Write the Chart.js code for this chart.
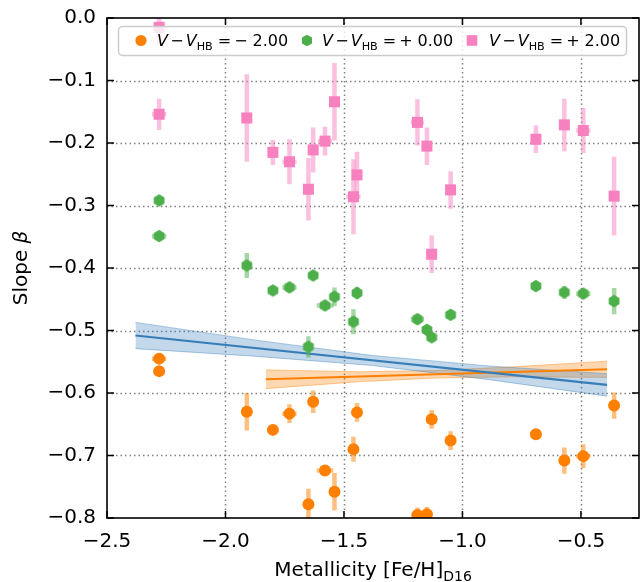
<!DOCTYPE html>
<html>
<head>
<meta charset="utf-8">
<script src="https://cdn.jsdelivr.net/npm/chart.js@4"></script>
<style>
  html, body { margin: 0; padding: 0; background: #fff; }
  #wrap { width: 640px; height: 582px; }
</style>
</head>
<body>
<div id="wrap"><canvas id="chart" width="640" height="582"></canvas></div>
<script>
// metallicity of each cluster, [Fe/H]_D16
const metallicity = [-2.28, -2.28, -1.91, -1.80, -1.73, -1.65, -1.63, -1.58, -1.54, -1.46,
                     -1.445, -1.19, -1.15, -1.13, -1.05, -0.69, -0.57, -0.49, -0.36];

// V - V_HB = -2.00 (orange circles)
const slopeM2 = [-0.545, -0.565, -0.630, -0.659, -0.633, -0.778, -0.614, -0.724, -0.758, -0.690,
                 -0.631, -0.795, -0.794, -0.642, -0.676, -0.666, -0.708, -0.701, -0.620];
const yErrM2  = [0.008, 0.005, 0.030, 0.006, 0.015, 0.025, 0.018, 0.008, 0.030, 0.020,
                 0.015, 0.012, 0.012, 0.015, 0.015, 0.004, 0.021, 0.019, 0.021];
const xErrM2  = [0.03, 0.02, 0.02, 0.02, 0.03, 0.02, 0.02, 0.035, 0.02, 0.02,
                 0.02, 0.025, 0.02, 0.02, 0.02, 0.02, 0.02, 0.03, 0.02];

// V - V_HB = +0.00 (green hexagons)
const slope00 = [-0.292, -0.349, -0.396, -0.436, -0.431, -0.526, -0.412, -0.460, -0.446, -0.486,
                 -0.440, -0.482, -0.499, -0.511, -0.475, -0.429, -0.439, -0.441, -0.453];
const yErr00  = [0.007, 0.006, 0.020, 0.006, 0.008, 0.017, 0.007, 0.006, 0.015, 0.020,
                 0.010, 0.008, 0.006, 0.006, 0.006, 0.005, 0.010, 0.008, 0.021];
const xErr00  = [0.02, 0.03, 0.02, 0.02, 0.03, 0.02, 0.02, 0.035, 0.02, 0.02,
                 0.02, 0.028, 0.02, 0.02, 0.02, 0.02, 0.02, 0.03, 0.02];

// V - V_HB = +2.00 (pink squares)
const slopeP2 = [-0.015, -0.154, -0.160, -0.215, -0.230, -0.274, -0.211, -0.197, -0.134, -0.286,
                 -0.251, -0.167, -0.205, -0.378, -0.275, -0.194, -0.171, -0.180, -0.285];
const yErrP2  = [0.028, 0.025, 0.070, 0.020, 0.036, 0.050, 0.036, 0.023, 0.062, 0.060,
                 0.037, 0.037, 0.030, 0.030, 0.030, 0.022, 0.042, 0.036, 0.063];
const xErrP2  = [0.02, 0.03, 0.02, 0.02, 0.03, 0.02, 0.02, 0.03, 0.02, 0.03,
                 0.02, 0.028, 0.02, 0.02, 0.02, 0.02, 0.02, 0.03, 0.02];

// linear fits and their confidence bands
const fitBlueX = [-2.38, -0.39];
const fitBlueY = [-0.508, -0.587];
const bandBlueX  = [-2.38, -1.88, -1.38, -0.88, -0.39];
const bandBlueHi = [-0.487, -0.515, -0.540, -0.557, -0.569];
const bandBlueLo = [-0.529, -0.541, -0.556, -0.579, -0.605];

const fitOrangeX = [-1.83, -0.39];
const fitOrangeY = [-0.578, -0.562];
const bandOrangeX  = [-1.83, -1.44, -1.11, -0.78, -0.39];
const bandOrangeHi = [-0.563, -0.566, -0.564, -0.558, -0.549];
const bandOrangeLo = [-0.593, -0.582, -0.576, -0.574, -0.575];

const legendSigns = ['\u2212', '+', '+'];
const legendValues = ['2.00', '0.00', '2.00'];

const colOrange = '#ff7f00';
const colGreen = '#4daf4a';
const colPink = '#f781bf';
const colBlue = '#377eb8';
const FONT = "'DejaVu Sans', sans-serif";

const toPts = (xs, ys) => xs.map((x, i) => ({ x: x, y: ys[i] }));

function hexPath(g, cx, cy, r) {
    g.beginPath();
    for (let k = 0; k < 6; k++) {
        const a = Math.PI / 180 * (60 * k - 90);
        const px = cx + r * Math.cos(a), py = cy + r * Math.sin(a);
        if (k === 0) g.moveTo(px, py); else g.lineTo(px, py);
    }
    g.closePath();
}

// hexagon marker as an image, Chart.js has no hexagon style
const hexImg = document.createElement('canvas');
hexImg.width = 14; hexImg.height = 14;
(function () {
    const g = hexImg.getContext('2d');
    hexPath(g, 7, 7, 6.2);
    g.fillStyle = colGreen;
    g.fill();
})();

const errorSets = [
    { xe: xErrM2, ye: yErrM2, ys: slopeM2, color: 'rgba(255,127,0,0.5)' },
    { xe: xErr00, ye: yErr00, ys: slope00, color: 'rgba(77,175,74,0.5)' },
    { xe: xErrP2, ye: yErrP2, ys: slopeP2, color: 'rgba(247,129,191,0.5)' }
];

function clipArea(ctx, a) {
    ctx.beginPath();
    ctx.rect(a.left, a.top, a.right - a.left, a.bottom - a.top);
    ctx.clip();
}

// draws text pieces: 'n' normal, 'i' italic, 's' subscript, 'g' blank gap in px
function pieceFont(p, size) {
    if (p[1] === 'i') return 'italic ' + size + 'px ' + FONT;
    if (p[1] === 's') return (size * 0.7) + 'px ' + FONT;
    return size + 'px ' + FONT;
}

function drawParts(ctx, x, y, parts, size) {
    let cx = x;
    parts.forEach(p => {
        if (p[1] === 'g') { cx += p[0]; return; }
        ctx.font = pieceFont(p, size);
        ctx.fillText(p[0], cx, y + (p[1] === 's' ? size * 0.25 : 0));
        cx += ctx.measureText(p[0]).width;
    });
    return cx - x;
}

function partsWidth(ctx, parts, size) {
    let w = 0;
    parts.forEach(p => {
        if (p[1] === 'g') { w += p[0]; return; }
        ctx.font = pieceFont(p, size);
        w += ctx.measureText(p[0]).width;
    });
    return w;
}

const extras = {
    id: 'extras',
    beforeDatasetsDraw(chart) {
        // dotted grid
        const ctx = chart.ctx, a = chart.chartArea;
        const xs = chart.scales.x, ys = chart.scales.y;
        ctx.save();
        ctx.strokeStyle = '#808080';
        ctx.lineWidth = 1.5;
        ctx.setLineDash([1.5, 3]);
        xs.ticks.forEach(t => {
            const px = Math.round(xs.getPixelForValue(t.value)) + 0.5;
            if (px < a.left + 2 || px > a.right - 2) return;
            ctx.beginPath(); ctx.moveTo(px, a.top); ctx.lineTo(px, a.bottom); ctx.stroke();
        });
        ys.ticks.forEach(t => {
            const py = Math.round(ys.getPixelForValue(t.value)) + 0.5;
            if (py < a.top + 2 || py > a.bottom - 2) return;
            ctx.beginPath(); ctx.moveTo(a.left, py); ctx.lineTo(a.right, py); ctx.stroke();
        });
        ctx.restore();
    },
    beforeDatasetDraw(chart, args) {
        const e = errorSets[args.index];
        if (!e) return;
        const ctx = chart.ctx, xs = chart.scales.x, ys = chart.scales.y;
        ctx.save();
        clipArea(ctx, chart.chartArea);
        ctx.strokeStyle = e.color;
        ctx.lineWidth = 4.5;
        metallicity.forEach((m, i) => {
            const px = xs.getPixelForValue(m), py = ys.getPixelForValue(e.ys[i]);
            ctx.beginPath();
            ctx.moveTo(px, ys.getPixelForValue(e.ys[i] + e.ye[i]));
            ctx.lineTo(px, ys.getPixelForValue(e.ys[i] - e.ye[i]));
            ctx.moveTo(xs.getPixelForValue(m - e.xe[i]), py);
            ctx.lineTo(xs.getPixelForValue(m + e.xe[i]), py);
            ctx.stroke();
        });
        ctx.restore();
    },
    afterDraw(chart) {
        const ctx = chart.ctx, a = chart.chartArea;
        const xs = chart.scales.x, ys = chart.scales.y;
        ctx.save();

        // legend box
        ctx.fillStyle = 'rgba(255,255,255,0.8)';
        ctx.strokeStyle = '#cccccc';
        ctx.lineWidth = 1.5;
        ctx.beginPath();
        ctx.roundRect(118.5, 26.5, 508, 29, 4);
        ctx.fill();
        ctx.stroke();

        const my = 40.5;
        ctx.fillStyle = colOrange;
        ctx.beginPath(); ctx.arc(141, my, 5.6, 0, Math.PI * 2); ctx.fill();
        ctx.fillStyle = colGreen;
        hexPath(ctx, 307, my, 5.8); ctx.fill();
        ctx.fillStyle = colPink;
        ctx.fillRect(472 - 5.3, my - 5.3, 10.6, 10.6);

        ctx.fillStyle = '#000';
        ctx.textBaseline = 'alphabetic';
        ctx.textAlign = 'left';
        const textX = [157, 322, 489];
        legendValues.forEach((v, i) => {
            drawParts(ctx, textX[i], 46, [
                ['V', 'i'], [2.2, 'g'], ['\u2212', 'n'], [2.2, 'g'], ['V', 'i'], ['HB', 's'],
                [5, 'g'], ['=', 'n'], [3, 'g'], [legendSigns[i], 'n'], [5, 'g'], [v, 'n']
            ], 16);
        });

        // frame
        ctx.strokeStyle = '#000';
        ctx.lineWidth = 1.6;
        ctx.strokeRect(a.left, a.top, a.right - a.left, a.bottom - a.top);

        // inward ticks on all sides
        const tl = 7;
        ctx.lineWidth = 1.5;
        xs.ticks.forEach(t => {
            const px = xs.getPixelForValue(t.value);
            ctx.beginPath();
            ctx.moveTo(px, a.bottom); ctx.lineTo(px, a.bottom - tl);
            ctx.moveTo(px, a.top); ctx.lineTo(px, a.top + tl);
            ctx.stroke();
        });
        ys.ticks.forEach(t => {
            const py = ys.getPixelForValue(t.value);
            ctx.beginPath();
            ctx.moveTo(a.left, py); ctx.lineTo(a.left + tl, py);
            ctx.moveTo(a.right, py); ctx.lineTo(a.right - tl, py);
            ctx.stroke();
        });

        // axis titles
        const xParts = [['Metallicity [Fe/H]', 'n'], ['D16', 's']];
        const xw = partsWidth(ctx, xParts, 20);
        drawParts(ctx, (a.left + a.right) / 2 - xw / 2, 576, xParts, 20);

        const yParts = [['Slope ', 'n'], ['\u03b2', 'i']];
        const yw = partsWidth(ctx, yParts, 20);
        ctx.translate(27, (a.top + a.bottom) / 2);
        ctx.rotate(-Math.PI / 2);
        drawParts(ctx, -yw / 2, 0, yParts, 20);
        ctx.restore();
    }
};

const tickFmt = v => Number(v).toFixed(1).replace('-', '\u2212');

new Chart(document.getElementById('chart'), {
    type: 'scatter',
    data: {
        datasets: [
            { data: toPts(metallicity, slopeM2), pointStyle: 'circle', pointRadius: 6,
              backgroundColor: colOrange, borderWidth: 0, order: 0, clip: 0 },
            { data: toPts(metallicity, slope00), pointStyle: hexImg, pointRadius: 7,
              backgroundColor: colGreen, borderWidth: 0, order: 0, clip: 0 },
            { data: toPts(metallicity, slopeP2), pointStyle: 'rect', pointRadius: 7.8,
              backgroundColor: colPink, borderWidth: 0, order: 0, clip: 0 },
            { data: toPts(fitBlueX, fitBlueY), showLine: true, borderColor: colBlue, borderWidth: 2.2,
              pointRadius: 0, order: 1 },
            { data: toPts(fitOrangeX, fitOrangeY), showLine: true, borderColor: colOrange, borderWidth: 2.2,
              pointRadius: 0, order: 1 },
            { data: toPts(bandBlueX, bandBlueHi), showLine: true, borderColor: 'rgba(55,126,184,0.4)',
              borderWidth: 1, backgroundColor: 'rgba(55,126,184,0.3)', fill: '+1', pointRadius: 0, order: 2 },
            { data: toPts(bandBlueX, bandBlueLo), showLine: true, borderColor: 'rgba(55,126,184,0.4)',
              borderWidth: 1, pointRadius: 0, order: 2 },
            { data: toPts(bandOrangeX, bandOrangeHi), showLine: true, borderColor: 'rgba(255,127,0,0.4)',
              borderWidth: 1, backgroundColor: 'rgba(255,127,0,0.3)', fill: '+1', pointRadius: 0, order: 2 },
            { data: toPts(bandOrangeX, bandOrangeLo), showLine: true, borderColor: 'rgba(255,127,0,0.4)',
              borderWidth: 1, pointRadius: 0, order: 2 }
        ]
    },
    options: {
        responsive: false,
        animation: false,
        events: [],
        layout: { autoPadding: false, padding: { top: 18, right: 1, left: 0, bottom: 0 } },
        plugins: { legend: { display: false }, tooltip: { enabled: false } },
        scales: {
            x: {
                type: 'linear', min: -2.5, max: -0.255,
                grid: { display: false, drawTicks: false },
                border: { display: false },
                ticks: { stepSize: 0.5, includeBounds: false, maxRotation: 0, padding: 12,
                         color: '#000', font: { family: FONT, size: 20 }, callback: tickFmt },
                afterFit: s => { s.height = 64; s.paddingLeft = 0; s.paddingRight = 0; }
            },
            y: {
                type: 'linear', min: -0.8, max: 0,
                grid: { display: false, drawTicks: false },
                border: { display: false },
                ticks: { stepSize: 0.1, padding: 11, color: '#000',
                         font: { family: FONT, size: 20 }, callback: tickFmt },
                afterFit: s => { s.width = 107; s.paddingTop = 0; s.paddingBottom = 0; }
            }
        }
    },
    plugins: [extras]
});
</script>
</body>
</html>
